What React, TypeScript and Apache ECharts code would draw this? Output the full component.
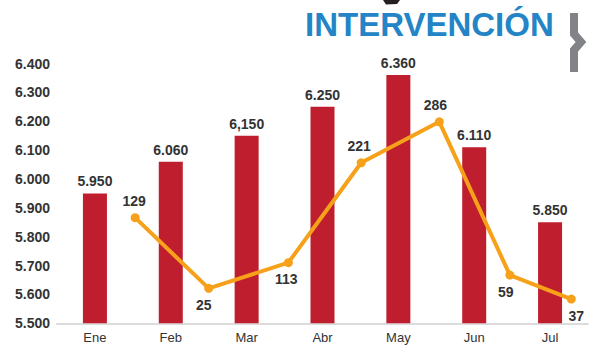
import React, { useEffect, useRef } from "react";
import * as echarts from "echarts";

// Categories (months)
const months = ["Ene", "Feb", "Mar", "Abr", "May", "Jun", "Jul"];
// Bar series values
const barValues = [5950, 6060, 6150, 6250, 6360, 6110, 5850];
// Bar labels as printed in the picture
const barLabels = ["5.950", "6.060", "6,150", "6.250", "6.360", "6.110", "5.850"];
// Line series: printed values
const interventionValues = [129, 25, 113, 221, 286, 59, 37];
// Line series: level where each point is drawn, read on the left scale
const interventionLevels = [5866, 5621, 5710, 6056, 6198, 5667, 5584];
// Line series: horizontal place of each point, in month units (Ene = 0)
const interventionSlots = [0.53, 1.5, 2.55, 3.51, 4.54, 5.47, 6.28];
// Y axis ticks
const yMin = 5500;
const yMax = 6400;
const yStep = 100;

const fmtThousands = (v: number) => {
  const s = String(Math.round(v));
  return s.length > 3 ? s.slice(0, s.length - 3) + "." + s.slice(-3) : s;
};

export default function App() {
  const ref = useRef<HTMLDivElement>(null);

  useEffect(() => {
    if (!ref.current) return;
    const chart = echarts.init(ref.current, undefined, { renderer: "svg" });
    const labelSide = ["top", "bottom", "bottom", "top", "top", "bottom", "bottom"];
    const labelShift: number[][] = [[-1, 0], [-5, 0], [-2, 0], [-2, 0], [-4, 0], [-4, 0], [5, 0]];

    chart.setOption({
      animation: false,
      backgroundColor: "#ffffff",
      grid: { left: 57, right: 12, top: 63.5, bottom: 29.7, containLabel: false },
      xAxis: [
        {
          type: "category",
          data: months,
          axisLine: { show: true, lineStyle: { color: "#dcdcdc", width: 2 } },
          axisTick: { show: false },
          axisLabel: {
            color: "#333333",
            fontSize: 13,
            fontFamily: "Liberation Sans, Arial, sans-serif",
            margin: 8,
          },
        },
        {
          type: "value",
          min: -0.5,
          max: 6.5,
          show: false,
        },
      ],
      yAxis: [
        {
          type: "value",
          min: yMin,
          max: yMax,
          interval: yStep,
          axisLine: { show: false },
          axisTick: { show: false },
          splitLine: { show: false },
          axisLabel: {
            color: "#333333",
            fontSize: 14,
            fontWeight: "bold",
            fontFamily: "Liberation Sans, Arial, sans-serif",
            margin: 7,
            formatter: (v: number) => fmtThousands(v),
          },
        },
      ],
      series: [
        {
          type: "bar",
          xAxisIndex: 0,
          yAxisIndex: 0,
          data: barValues,
          barWidth: 24,
          itemStyle: { color: "#be1e2d" },
          label: {
            show: true,
            position: "top",
            distance: 5,
            color: "#333333",
            fontSize: 14,
            fontWeight: "bold",
            fontFamily: "Liberation Sans, Arial, sans-serif",
            formatter: (p: any) => barLabels[p.dataIndex],
          },
        },
        {
          type: "line",
          xAxisIndex: 1,
          yAxisIndex: 0,
          data: interventionLevels.map((lv, i) => ({
            value: [interventionSlots[i], lv],
            label: {
              position: labelSide[i],
              offset: labelShift[i],
            },
          })),
          lineStyle: { color: "#f7a11a", width: 4 },
          itemStyle: { color: "#f7a11a" },
          symbol: "circle",
          symbolSize: 9,
          z: 5,
          label: {
            show: true,
            distance: 5,
            color: "#333333",
            fontSize: 14,
            fontWeight: "bold",
            fontFamily: "Liberation Sans, Arial, sans-serif",
            formatter: (p: any) => String(interventionValues[p.dataIndex]),
          },
        },
      ],
      graphic: [
        {
          type: "text",
          left: 305,
          top: 8,
          style: {
            text: "INTERVENCIÓN",
            fill: "#2384c6",
            font: "bold 33px 'Liberation Sans', Arial, sans-serif",
          },
        },
        {
          type: "polygon",
          shape: { points: [[383, 0], [400, 0], [397, 4], [386, 4.5]] },
          style: { fill: "#231f20" },
        },
        {
          type: "polyline",
          shape: { points: [[574, 13], [574, 34], [581, 42], [574, 50], [574, 72]] },
          style: { stroke: "#818386", lineWidth: 8, fill: "none", lineJoin: "miter" },
        },
      ],
    });

    return () => chart.dispose();
  }, []);

  return <div ref={ref} style={{ width: 600, height: 353, position: "absolute", left: 0, top: 0 }} />;
}
